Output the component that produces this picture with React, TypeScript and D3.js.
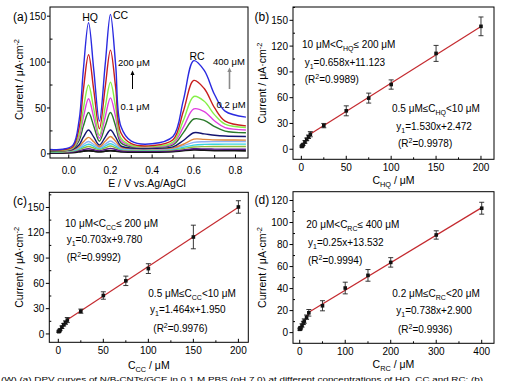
import React from "react";
import * as d3 from "d3";

const FONT = "'Liberation Sans', Arial, Helvetica, sans-serif";

// ---------- Panel (a): DPV curves ----------
const potentials = [-0.1, -0.03, 0.02, 0.05, 0.07, 0.095, 0.12, 0.147, 0.175, 0.2, 0.225, 0.25, 0.3, 0.4, 0.5, 0.55, 0.6, 0.65, 0.7, 0.75, 0.85];
const dpvBlue = [5, 5, 9.5, 37.4, 91.5, 143, 91.5, 35.6, 97.8, 152, 97, 30, 13.8, 11, 19, 58.6, 101.5, 90.9, 64.4, 46.5, 40];
const dpvRed = [4.5, 4.5, 7.8, 28.8, 69.4, 108, 69.4, 27.3, 73, 113, 72.4, 23, 11.1, 9, 15.3, 46.4, 80, 71.2, 50, 35.7, 30.5];
const dpvGreen = [4, 4, 6.7, 21.4, 48.9, 75, 48.9, 20.3, 51.1, 78, 50.7, 17.5, 9.4, 8, 12.8, 36.5, 62.5, 57.3, 42.5, 32.4, 28.7];
const dpvMagenta = [4, 4, 6.3, 18, 39.5, 60, 39.5, 17, 40.4, 61, 40.1, 14.7, 8.6, 7.5, 11.2, 29.1, 49, 46.1, 35.8, 28.6, 26];
const dpvDarkGreen = [3.5, 3.5, 5.7, 14.6, 30.2, 45, 30.2, 13.8, 30.4, 45, 30.2, 12.1, 7.8, 7, 9.8, 23.1, 38, 36.5, 29.7, 24.8, 23];
const dpvNavy = [3.5, 3.5, 5, 10, 18.2, 26, 18.2, 9.6, 18.3, 26, 18.2, 8.7, 6.4, 6, 7.6, 14.6, 23, 21.8, 20.3, 19.5, 19];
const dpvOrange = [3, 3, 4.4, 8, 13.1, 18, 13.1, 7.8, 13.7, 19, 13.7, 7.3, 5.8, 5.5, 6.5, 10.5, 16, 15.8, 15.3, 15.1, 15];
const dpvLightBlue = [3, 3, 4.1, 6.7, 10.2, 13.5, 10.2, 6.6, 10.5, 14, 10.5, 6.2, 5.2, 5, 5.8, 9, 12.5, 13.2, 13.4, 13.5, 13.5];
const dpvCyan = [2.5, 2.5, 3.6, 5.7, 8.2, 10.5, 8.2, 5.6, 8.5, 11, 8.5, 5.4, 4.6, 4.5, 5.2, 7.2, 9.5, 10.3, 10.5, 10.6, 10.6];
const dpvOlive = [2, 2, 3, 4.8, 6.4, 8, 6.4, 4.7, 6.7, 8.5, 6.7, 4.6, 4.1, 4, 4.5, 5.9, 7.5, 7.9, 8, 8, 8];
const dpvPurple = [1.5, 1.5, 2.3, 3.5, 4.6, 5.5, 4.6, 3.5, 4.8, 6, 4.8, 3.4, 3.1, 3, 3.4, 4.4, 5.5, 5.4, 5.2, 5.1, 5];
const dpvBlack = [1, 1, 1.5, 2.3, 3, 3.5, 3, 2.3, 3, 3.5, 3, 2.3, 2.1, 2, 2.6, 3.7, 4.5, 4.2, 3.8, 3.6, 3.5];
const dpvSeries = [dpvBlack, dpvPurple, dpvOlive, dpvCyan, dpvLightBlue, dpvOrange, dpvNavy, dpvDarkGreen, dpvMagenta, dpvGreen, dpvRed, dpvBlue];
const dpvColors = ["#151515", "#5a1a8a", "#8fbf3f", "#38d4e0", "#8fb0f5", "#e0863a", "#141470", "#2a7a2a", "#e040e0", "#86f048", "#c81e1e", "#2a2ae0"];
const dpvXTicks = [0.0, 0.2, 0.4, 0.6, 0.8];
const dpvYTicks = [0, 50, 100, 150];

// ---------- Panel (b): HQ calibration ----------
const hqConc = [0.5, 1, 2, 4, 6, 8, 10, 25, 50, 75, 100, 150, 200];
const hqCurrent = [3.2, 4, 5.5, 8.5, 11.5, 14.5, 17.5, 27.5, 44.7, 59.5, 75.3, 111.5, 143];
const hqError = [0.8, 1, 1, 1.5, 1.5, 2, 3, 2.5, 5.8, 5.8, 5.4, 9.3, 10.9];
const hqFits = [
  { slope: 1.53, intercept: 2.472, from: 0.5, to: 10 },
  { slope: 0.658, intercept: 11.123, from: 10, to: 200 },
];
const hqXTicks = [0, 50, 100, 150, 200];
const hqYTicks = [0, 30, 60, 90, 120, 150];

// ---------- Panel (c): CC calibration ----------
const ccConc = [0.5, 1, 2, 4, 6, 8, 10, 25, 50, 75, 100, 150, 200];
const ccCurrent = [2.7, 3.5, 5, 8, 11, 13.5, 16.5, 27, 45.6, 63, 77.5, 115, 150.6];
const ccError = [0.8, 1, 1, 1.5, 1.5, 2, 3, 2.5, 4.4, 5.6, 5.8, 14, 7.4];
const ccFits = [
  { slope: 1.464, intercept: 1.95, from: 0.5, to: 10 },
  { slope: 0.703, intercept: 9.78, from: 10, to: 200 },
];
const ccXTicks = [0, 50, 100, 150, 200];
const ccYTicks = [0, 30, 60, 90, 120, 150];

// ---------- Panel (d): RC calibration ----------
const rcConc = [0.2, 1, 2, 5, 8, 10, 15, 20, 50, 100, 150, 200, 300, 400];
const rcCurrent = [3, 3.6, 4.5, 6.5, 8.8, 10.5, 14, 18, 24.4, 40.5, 52, 63.8, 88.7, 113];
const rcError = [0.8, 1, 1, 1.5, 1.5, 2, 2, 3, 4.6, 5.3, 5.3, 4.3, 3.8, 5.4];
const rcFits = [
  { slope: 0.738, intercept: 2.9, from: 0.2, to: 20 },
  { slope: 0.25, intercept: 13.532, from: 20, to: 400 },
];
const rcXTicks = [0, 100, 200, 300, 400];
const rcYTicks = [0, 20, 40, 60, 80, 100, 120];

const caption =
  "(W) (a) DPV curves of N/B-CNTs/GCE in 0.1 M PBS (pH 7.0) at different concentrations of HQ, CC and RC; (b)";

type Seg = { t: string; sub?: boolean; sup?: boolean };

function RichText({ segs, x, y, size = 10, anchor = "start", rotate = false }: { segs: Seg[]; x: number; y: number; size?: number; anchor?: string; rotate?: boolean }) {
  let prev = 0;
  const small = size * 0.7;
  return (
    <text
      x={x}
      y={y}
      fontSize={size}
      fontFamily={FONT}
      textAnchor={anchor as any}
      transform={rotate ? `rotate(-90 ${x} ${y})` : undefined}
      fill="#000"
    >
      {segs.map((s, i) => {
        const off = s.sub ? size * 0.3 : s.sup ? -size * 0.4 : 0;
        const dy = off - prev;
        prev = off;
        return (
          <tspan key={i} dy={dy} fontSize={s.sub || s.sup ? small : size}>
            {s.t}
          </tspan>
        );
      })}
    </text>
  );
}

const yTitle: Seg[] = [{ t: "Current / μA·cm" }, { t: "-2", sup: true }];

function CalPanel(props: {
  box: { l: number; r: number; t: number; b: number };
  xDomain: [number, number];
  yDomain: [number, number];
  xTicks: number[];
  yTicks: number[];
  conc: number[];
  current: number[];
  error: number[];
  fits: { slope: number; intercept: number; from: number; to: number }[];
  label: string;
  labelX: number;
  labelY: number;
  yTitleX: number;
  xTitle: Seg[];
  xTitleY: number;
  notes: { segs: Seg[]; x: number; y: number }[];
  clipId: string;
}) {
  const { box } = props;
  const x = d3.scaleLinear().domain(props.xDomain).range([box.l, box.r]);
  const y = d3.scaleLinear().domain(props.yDomain).range([box.b, box.t]);
  const xStep = props.xTicks[1] - props.xTicks[0];
  const yStep = props.yTicks[1] - props.yTicks[0];
  const xMinor: number[] = [];
  props.xTicks.forEach((v) => {
    const m = v + xStep / 2;
    if (m < props.xDomain[1]) xMinor.push(m);
  });
  const yMinor: number[] = [];
  props.yTicks.forEach((v) => {
    const m = v + yStep / 2;
    if (m < props.yDomain[1]) yMinor.push(m);
  });
  const fitLine = d3.line<number[]>().x((d) => x(d[0])).y((d) => y(d[1]));
  return (
    <g>
      <clipPath id={props.clipId}>
        <rect x={box.l} y={box.t} width={box.r - box.l} height={box.b - box.t} />
      </clipPath>
      <g clipPath={`url(#${props.clipId})`}>
        {props.fits.map((f, i) => (
          <path
            key={i}
            d={fitLine([
              [f.from, f.slope * f.from + f.intercept],
              [f.to, f.slope * f.to + f.intercept],
            ]) || ""}
            stroke="#c42a2f"
            strokeWidth={1.2}
            fill="none"
          />
        ))}
        {props.conc.map((c, i) => {
          const cx = x(c);
          const top = y(props.current[i] + props.error[i]);
          const bot = y(props.current[i] - props.error[i]);
          return (
            <g key={i} stroke="#222" strokeWidth={0.9}>
              <line x1={cx} x2={cx} y1={top} y2={bot} />
              <line x1={cx - 2.5} x2={cx + 2.5} y1={top} y2={top} />
              <line x1={cx - 2.5} x2={cx + 2.5} y1={bot} y2={bot} />
              <rect x={cx - 1.8} y={y(props.current[i]) - 1.8} width={3.6} height={3.6} fill="#111" stroke="none" />
            </g>
          );
        })}
      </g>
      <rect x={box.l} y={box.t} width={box.r - box.l} height={box.b - box.t} fill="none" stroke="#000" strokeWidth={1} />
      {props.xTicks.map((v) => (
        <g key={"xt" + v}>
          <line x1={x(v)} x2={x(v)} y1={box.b} y2={box.b - 3.5} stroke="#000" />
          <text x={x(v)} y={box.b + 11.5} fontSize={10} fontFamily={FONT} textAnchor="middle">
            {v}
          </text>
        </g>
      ))}
      {xMinor.map((v) => (
        <line key={"xm" + v} x1={x(v)} x2={x(v)} y1={box.b} y2={box.b - 2} stroke="#000" />
      ))}
      {props.yTicks.map((v) => (
        <g key={"yt" + v}>
          <line x1={box.l} x2={box.l - 3.5} y1={y(v)} y2={y(v)} stroke="#000" />
          <text x={box.l - 5} y={y(v) + 3.6} fontSize={10} fontFamily={FONT} textAnchor="end">
            {v}
          </text>
        </g>
      ))}
      {yMinor.map((v) => (
        <line key={"ym" + v} x1={box.l} x2={box.l + 2} y1={y(v)} y2={y(v)} stroke="#000" />
      ))}
      <text x={props.labelX} y={props.labelY} fontSize={12} fontFamily={FONT}>
        {props.label}
      </text>
      <RichText segs={yTitle} x={props.yTitleX} y={(box.t + box.b) / 2} anchor="middle" rotate size={10.5} />
      <RichText segs={props.xTitle} x={(box.l + box.r) / 2} y={props.xTitleY} anchor="middle" size={10.5} />
      {props.notes.map((n, i) => (
        <RichText key={i} segs={n.segs} x={n.x} y={n.y} size={10} />
      ))}
    </g>
  );
}

function DpvPanel() {
  const box = { l: 50, r: 248, t: 7, b: 158 };
  const x = d3.scaleLinear().domain([-0.09, 0.86]).range([box.l, box.r]);
  const y = d3.scaleLinear().domain([-4.5, 160]).range([box.b, box.t]);
  const line = d3
    .line<number>()
    .x((_, i) => x(potentials[i]))
    .y((d) => y(d))
    .curve(d3.curveCatmullRom.alpha(0.5));
  const xMinor = [0.1, 0.3, 0.5, 0.7];
  const yMinor = [25, 75, 125];
  return (
    <g>
      <clipPath id="clipA">
        <rect x={box.l} y={box.t} width={box.r - box.l} height={box.b - box.t} />
      </clipPath>
      <g clipPath="url(#clipA)">
        {dpvSeries.map((s, i) => (
          <path key={i} d={line(s) || ""} fill="none" stroke={dpvColors[i]} strokeWidth={i === 0 ? 2 : 1.4} />
        ))}
      </g>
      <rect x={box.l} y={box.t} width={box.r - box.l} height={box.b - box.t} fill="none" stroke="#000" strokeWidth={1} />
      {dpvXTicks.map((v) => (
        <g key={"xt" + v}>
          <line x1={x(v)} x2={x(v)} y1={box.b} y2={box.b - 3.5} stroke="#000" />
          <text x={x(v)} y={box.b + 15.5} fontSize={10} fontFamily={FONT} textAnchor="middle">
            {v.toFixed(1)}
          </text>
        </g>
      ))}
      {xMinor.map((v) => (
        <line key={"xm" + v} x1={x(v)} x2={x(v)} y1={box.b} y2={box.b - 3} stroke="#000" />
      ))}
      {dpvYTicks.map((v) => (
        <g key={"yt" + v}>
          <line x1={box.l} x2={box.l - 3} y1={y(v)} y2={y(v)} stroke="#000" />
          <text x={box.l - 4} y={y(v) + 3.6} fontSize={10} fontFamily={FONT} textAnchor="end">
            {v}
          </text>
        </g>
      ))}
      {yMinor.map((v) => (
        <line key={"ym" + v} x1={box.l} x2={box.l + 2.5} y1={y(v)} y2={y(v)} stroke="#000" />
      ))}
      <text x={13} y={21} fontSize={12} fontFamily={FONT}>
        (a)
      </text>
      <RichText segs={yTitle} x={23} y={(box.t + box.b) / 2 - 3} anchor="middle" rotate size={10.5} />
      <text x={147} y={186.5} fontSize={10.5} fontFamily={FONT} textAnchor="middle">
        E / V vs.Ag/AgCl
      </text>
      <text x={90} y={21} fontSize={10.5} fontFamily={FONT} textAnchor="middle">HQ</text>
      <text x={113} y={19} fontSize={10.5} fontFamily={FONT}>CC</text>
      <text x={197} y={60} fontSize={10.5} fontFamily={FONT} textAnchor="middle">RC</text>
      <text x={118} y={65.5} fontSize={9.5} fontFamily={FONT}>200 μM</text>
      <text x={120.5} y={109.5} fontSize={9.5} fontFamily={FONT}>0.1 μM</text>
      <text x={213} y={65} fontSize={9.5} fontFamily={FONT}>400 μM</text>
      <text x={216.5} y={107.5} fontSize={9.5} fontFamily={FONT}>0.2 μM</text>
      <line x1={132.5} x2={132.5} y1={89} y2={74} stroke="#000" strokeWidth={1} />
      <path d="M130.5,75 L132.5,70.5 L134.5,75 Z" fill="#000" />
      <line x1={229.5} x2={229.5} y1={89} y2={71} stroke="#8a8a8a" strokeWidth={1.6} />
      <path d="M227.3,72 L229.5,67.5 L231.7,72 Z" fill="#8a8a8a" />
    </g>
  );
}

export default function App() {
  return (
    <svg
      width={507}
      height={381}
      viewBox="0 0 507 381"
      style={{ position: "absolute", left: 0, top: 0, background: "#fff" }}
    >
      <rect x={0} y={0} width={507} height={381} fill="#fff" />
      <DpvPanel />
      <CalPanel
        box={{ l: 293, r: 494, t: 7, b: 159.3 }}
        xDomain={[-9.3, 214.5]}
        yDomain={[-11.7, 165.5]}
        xTicks={hqXTicks}
        yTicks={hqYTicks}
        conc={hqConc}
        current={hqCurrent}
        error={hqError}
        fits={hqFits}
        label="(b)"
        labelX={254.5}
        labelY={21}
        yTitleX={266}
        xTitle={[{ t: "C" }, { t: "HQ", sub: true }, { t: " / μM" }]}
        xTitleY={184}
        clipId="clipB"
        notes={[
          { segs: [{ t: "10 μM<C" }, { t: "HQ", sub: true }, { t: "≤ 200 μM" }], x: 302, y: 48 },
          { segs: [{ t: "y" }, { t: "1", sub: true }, { t: "=0.658x+11.123" }], x: 304.7, y: 66 },
          { segs: [{ t: "(R" }, { t: "2", sup: true }, { t: "=0.9989)" }], x: 304.7, y: 83 },
          { segs: [{ t: "0.5 μM≤C" }, { t: "HQ", sub: true }, { t: "<10 μM" }], x: 392, y: 112 },
          { segs: [{ t: "y" }, { t: "1", sub: true }, { t: "=1.530x+2.472" }], x: 396.3, y: 129.5 },
          { segs: [{ t: "(R" }, { t: "2", sup: true }, { t: "=0.9978)" }], x: 398, y: 147 },
        ]}
      />
      <CalPanel
        box={{ l: 49.3, r: 248.3, t: 192.3, b: 342.3 }}
        xDomain={[-10, 211]}
        yDomain={[-9.9, 168]}
        xTicks={ccXTicks}
        yTicks={ccYTicks}
        conc={ccConc}
        current={ccCurrent}
        error={ccError}
        fits={ccFits}
        label="(c)"
        labelX={13}
        labelY={205}
        yTitleX={23.3}
        xTitle={[{ t: "C" }, { t: "CC", sub: true }, { t: " / μM" }]}
        xTitleY={368.5}
        clipId="clipC"
        notes={[
          { segs: [{ t: "10 μM<C" }, { t: "CC", sub: true }, { t: "≤ 200 μM" }], x: 65, y: 227 },
          { segs: [{ t: "y" }, { t: "1", sub: true }, { t: "=0.703x+9.780" }], x: 66.7, y: 243 },
          { segs: [{ t: "(R" }, { t: "2", sup: true }, { t: "=0.9992)" }], x: 66.7, y: 261 },
          { segs: [{ t: "0.5 μM≤C" }, { t: "CC", sub: true }, { t: "<10 μM" }], x: 148.3, y: 296.5 },
          { segs: [{ t: "y" }, { t: "1", sub: true }, { t: "=1.464x+1.950" }], x: 150, y: 312.5 },
          { segs: [{ t: "(R" }, { t: "2", sup: true }, { t: "=0.9976)" }], x: 153.3, y: 331.5 },
        ]}
      />
      <CalPanel
        box={{ l: 293, r: 494, t: 191.7, b: 343.3 }}
        xDomain={[-14.8, 427]}
        yDomain={[-9.7, 128]}
        xTicks={rcXTicks}
        yTicks={rcYTicks}
        conc={rcConc}
        current={rcCurrent}
        error={rcError}
        fits={rcFits}
        label="(d)"
        labelX={254.5}
        labelY={204}
        yTitleX={266}
        xTitle={[{ t: "C" }, { t: "RC", sub: true }, { t: " / μM" }]}
        xTitleY={368}
        clipId="clipD"
        notes={[
          { segs: [{ t: "20 μM<C" }, { t: "RC", sub: true }, { t: "≤ 400 μM" }], x: 306.3, y: 228 },
          { segs: [{ t: "y" }, { t: "1", sub: true }, { t: "=0.25x+13.532" }], x: 308, y: 245.5 },
          { segs: [{ t: "(R" }, { t: "2", sup: true }, { t: "=0.9994)" }], x: 308, y: 263.5 },
          { segs: [{ t: "0.2 μM≤C" }, { t: "RC", sub: true }, { t: "<20 μM" }], x: 392.3, y: 297 },
          { segs: [{ t: "y" }, { t: "1", sub: true }, { t: "=0.738x+2.900" }], x: 396.3, y: 313.5 },
          { segs: [{ t: "(R" }, { t: "2", sup: true }, { t: "=0.9936)" }], x: 398, y: 332.5 },
        ]}
      />
      <text x={1} y={381.5} fontSize={7} fontFamily={FONT} textLength={482} lengthAdjust="spacingAndGlyphs">
        {caption}
      </text>
    </svg>
  );
}
